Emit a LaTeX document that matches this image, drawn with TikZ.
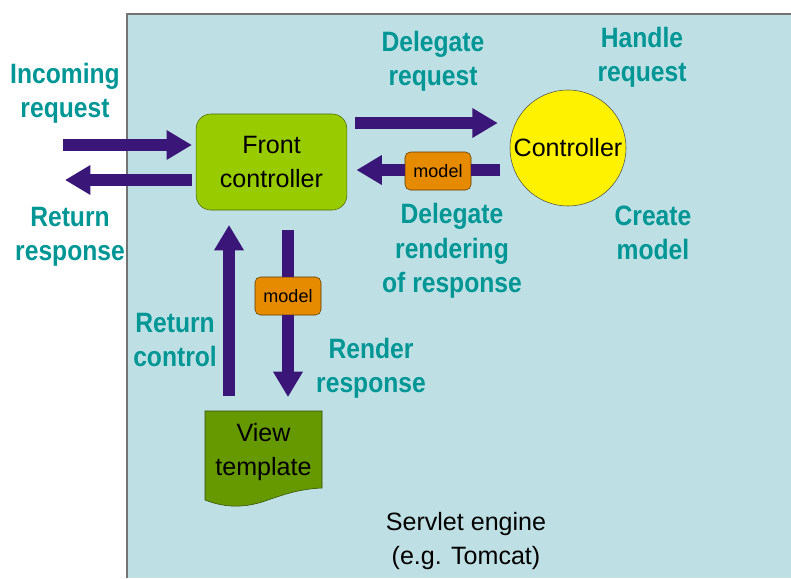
\documentclass[tikz,border=0pt]{standalone}
\usepackage{fontspec}
\setmainfont{Liberation Sans}
\newfontfamily\narrowfont{Liberation Sans}[FakeStretch=0.88]
\usetikzlibrary{arrows.meta}
\definecolor{bgblue}{RGB}{190,224,228}
\definecolor{tealtxt}{RGB}{0,150,150}
\definecolor{arrowpurple}{RGB}{58,22,120}
\definecolor{frontgreen}{RGB}{153,204,0}
\definecolor{modelorange}{RGB}{230,138,0}
\definecolor{viewgreen}{RGB}{102,153,0}

\begin{document}
\begin{tikzpicture}[x=0.75pt,y=-0.75pt,
    tealtext/.style={text=tealtxt, align=center, font=\narrowfont\fontsize{21}{25.8}\selectfont\bfseries},
    blocktext/.style={align=center, font=\fontsize{18.8}{25}\selectfont},
    fat/.style={arrowpurple, line width=8.5pt, -{Triangle[width=21pt,length=19pt]}},
    fatline/.style={arrowpurple, line width=8.5pt},
    modelbox/.style={draw=black!60!modelorange, fill=modelorange, rounded corners=4pt,
      minimum width=49.5pt, minimum height=28.5pt, inner sep=0pt,
      font=\fontsize{13.5}{15}\selectfont}]
  \useasboundingbox (0,0) rectangle (791,578);
  % Servlet engine
  \fill[bgblue] (127,14) rectangle (791,578);
  \draw[black!55, line width=1.5pt] (127,578) -- (127,14) -- (791,14);
  \node[blocktext] (engine) at (466,541) {Servlet engine\\(e.g. Tomcat)};
  % Front controller and controller
  \node[blocktext, draw=black!50!frontgreen, fill=frontgreen, rounded corners=11pt,
    minimum width=113pt, minimum height=72pt] (front) at (271.5,162) {Front\\controller};
  \node[blocktext, circle, draw=black!70, fill=yellow, minimum size=87pt, inner sep=0pt]
    (ctrl) at (568,148) {Controller};
  % View template
  \draw[black!50!viewgreen, fill=viewgreen] (205,411) -- (322,411) -- (322,488)
    .. controls (300,489) and (285,494) .. (265,501)
    .. controls (245,508) and (225,508) .. (205,500) -- cycle;
  \node[blocktext, minimum width=87pt, minimum height=58pt] (view) at (263.5,452) {View\\template};
  % Incoming and outgoing
  \coordinate (inreq) at (63,145);
  \coordinate (outresp) at (65,180);
  \draw[fat, shorten >=3pt] (inreq) -- (inreq -| front.west);
  \draw[fat, shorten <=3pt] (outresp -| front.west) -- (outresp);
  % Delegate request / rendering
  \coordinate (dreq) at (0,123);
  \coordinate (drend) at (0,170);
  \draw[fat, shorten <=6pt, shorten >=9pt] (dreq -| front.east) -- (dreq -| ctrl.west);
  \node[modelbox] (mdlright) at (438,171) {model};
  \draw[fatline, shorten <=7pt] (drend -| ctrl.west) -- (drend -| mdlright.east);
  \draw[fat, shorten >=7pt] (drend -| mdlright.west) -- (drend -| front.east);
  % Render response / return control
  \node[modelbox] (mdldown) at (288,296) {model};
  \draw[fatline, shorten <=15pt] (front.south -| mdldown) -- (mdldown.north);
  \draw[fat, shorten >=12pt] (mdldown.south) -- (view.north -| mdldown);
  \coordinate (retctl) at (229,0);
  \draw[fat, shorten <=13pt, shorten >=11pt] (view.north -| retctl) -- (front.south -| retctl);
  % Labels
  \node[tealtext] (lblin) at (65,93) {Incoming\\request};
  \node[tealtext] (lblout) at (70,237) {Return\\response};
  \node[tealtext] (lbldreq) at (433,61) {Delegate\\request};
  \node[tealtext] (lblhandle) at (642,57) {Handle\\request};
  \node[tealtext] (lbldrend) at (452,251) {Delegate\\rendering\\of response};
  \node[tealtext] (lblcreate) at (653,233) {Create\\model};
  \node[tealtext] (lblretctl) at (175,340) {Return\\control};
  \node[tealtext] (lblrender) at (371,368) {Render\\response};
\end{tikzpicture}
\end{document}
